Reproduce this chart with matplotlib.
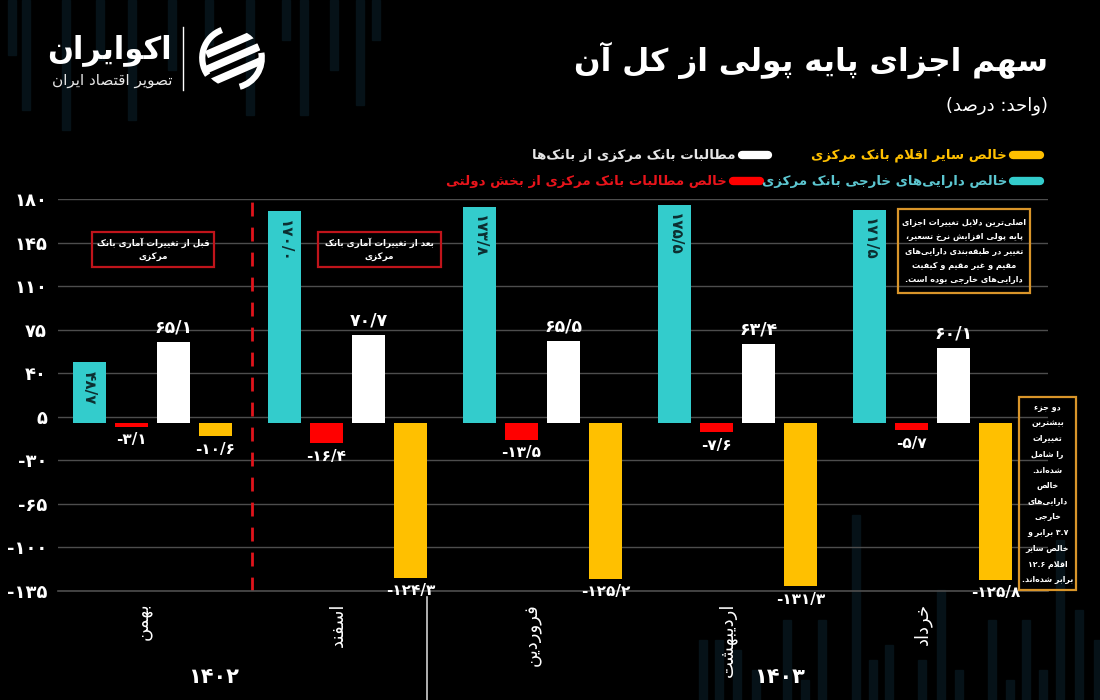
import re
import matplotlib
matplotlib.use('Agg')
import matplotlib.pyplot as plt
from matplotlib.patches import Rectangle, Circle, Arc
from matplotlib.lines import Line2D
from matplotlib.transforms import blended_transform_factory

# ---------------- data ----------------
months = ['بهمن', 'اسفند', 'فروردین', 'اردیبهشت', 'خرداد']
years = ['۱۴۰۲', '۱۴۰۳']
foreign_assets = [48.7, 170.0, 173.8, 175.5, 171.5]
gov_claims = [-3.1, -16.4, -13.5, -7.6, -5.7]
bank_claims = [65.1, 70.7, 65.5, 63.4, 60.1]
other_items = [-10.6, -124.3, -125.2, -131.3, -125.8]
yticks = [-135, -100, -65, -30, 5, 40, 75, 110, 145, 180]
series_names = ['خالص دارایی‌های خارجی بانک مرکزی',
                'خالص مطالبات بانک مرکزی از بخش دولتی',
                'مطالبات بانک مرکزی از بانک‌ها',
                'خالص سایر اقلام بانک مرکزی']
title = 'سهم اجزای پایه پولی از کل آن'
subtitle = '(واحد: درصد)'
note_before = 'قبل از تغییرات آماری بانک\nمرکزی'
note_after = 'بعد از تغییرات آماری بانک\nمرکزی'
note_reasons = ('اصلی‌ترین دلایل تغییرات اجزای\nپایه پولی افزایش نرخ تسعیر،\n'
                'تغییر در طبقه‌بندی دارایی‌های\nمقیم و غیر مقیم و کیفیت\nدارایی‌های خارجی بوده است.')
note_two = ('دو جزء\nبیشترین\nتغییرات\nرا شامل\nشده‌اند.\nخالص\nدارایی‌های\nخارجی\n'
            '۳.۷ برابر و\nخالص سایر\nاقلام ۱۲.۶\nبرابر شده‌اند.')
brand = 'اکوایران'
brand_sub = 'تصویر اقتصاد ایران'

TEAL = '#33cccc'
RED = '#ff0000'
WHITE = '#ffffff'
GOLD = '#ffc000'
TEAL_TXT = '#5cc6d0'
colors = [TEAL, RED, WHITE, GOLD]

# ---------------- Arabic/Persian shaping ----------------
FORMS = {
    '\u0621': ('\uFE80', None, None, None),
    '\u0627': ('\uFE8D', '\uFE8E', None, None),
    '\u0622': ('\uFE81', '\uFE82', None, None),
    '\u0623': ('\uFE83', '\uFE84', None, None),
    '\u062F': ('\uFEA9', '\uFEAA', None, None),
    '\u0630': ('\uFEAB', '\uFEAC', None, None),
    '\u0631': ('\uFEAD', '\uFEAE', None, None),
    '\u0632': ('\uFEAF', '\uFEB0', None, None),
    '\u0698': ('\uFB8A', '\uFB8B', None, None),
    '\u0648': ('\uFEED', '\uFEEE', None, None),
    '\u0628': ('\uFE8F', '\uFE90', '\uFE91', '\uFE92'),
    '\u067E': ('\uFB56', '\uFB57', '\uFB58', '\uFB59'),
    '\u062A': ('\uFE95', '\uFE96', '\uFE97', '\uFE98'),
    '\u062B': ('\uFE99', '\uFE9A', '\uFE9B', '\uFE9C'),
    '\u062C': ('\uFE9D', '\uFE9E', '\uFE9F', '\uFEA0'),
    '\u0686': ('\uFB7A', '\uFB7B', '\uFB7C', '\uFB7D'),
    '\u062D': ('\uFEA1', '\uFEA2', '\uFEA3', '\uFEA4'),
    '\u062E': ('\uFEA5', '\uFEA6', '\uFEA7', '\uFEA8'),
    '\u0633': ('\uFEB1', '\uFEB2', '\uFEB3', '\uFEB4'),
    '\u0634': ('\uFEB5', '\uFEB6', '\uFEB7', '\uFEB8'),
    '\u0635': ('\uFEB9', '\uFEBA', '\uFEBB', '\uFEBC'),
    '\u0636': ('\uFEBD', '\uFEBE', '\uFEBF', '\uFEC0'),
    '\u0637': ('\uFEC1', '\uFEC2', '\uFEC3', '\uFEC4'),
    '\u0638': ('\uFEC5', '\uFEC6', '\uFEC7', '\uFEC8'),
    '\u0639': ('\uFEC9', '\uFECA', '\uFECB', '\uFECC'),
    '\u063A': ('\uFECD', '\uFECE', '\uFECF', '\uFED0'),
    '\u0641': ('\uFED1', '\uFED2', '\uFED3', '\uFED4'),
    '\u0642': ('\uFED5', '\uFED6', '\uFED7', '\uFED8'),
    '\u06A9': ('\uFB8E', '\uFB8F', '\uFB90', '\uFB91'),
    '\u0643': ('\uFED9', '\uFEDA', '\uFEDB', '\uFEDC'),
    '\u06AF': ('\uFB92', '\uFB93', '\uFB94', '\uFB95'),
    '\u0644': ('\uFEDD', '\uFEDE', '\uFEDF', '\uFEE0'),
    '\u0645': ('\uFEE1', '\uFEE2', '\uFEE3', '\uFEE4'),
    '\u0646': ('\uFEE5', '\uFEE6', '\uFEE7', '\uFEE8'),
    '\u0647': ('\uFEE9', '\uFEEA', '\uFEEB', '\uFEEC'),
    '\u06CC': ('\uFBFC', '\uFBFD', '\uFBFE', '\uFBFF'),
    '\u064A': ('\uFEF1', '\uFEF2', '\uFEF3', '\uFEF4'),
    '\u0626': ('\uFE89', '\uFE8A', '\uFE8B', '\uFE8C'),
}
LAM_ALEF = {'\u0627': ('\uFEFB', '\uFEFC'), '\u0622': ('\uFEF5', '\uFEF6'),
            '\u0623': ('\uFEF7', '\uFEF8')}
MIRROR = {'(': ')', ')': '(', '[': ']', ']': '['}


def _shape(line):
    ch = list(line)
    n = len(ch)
    out = []
    i = 0
    while i < n:
        c = ch[i]
        if c not in FORMS:
            if c != '\u200c':
                out.append(c)
            i += 1
            continue
        prev = ch[i - 1] if i > 0 else None
        cp = prev in FORMS and FORMS[prev][2] is not None
        if c == '\u0644' and i + 1 < n and ch[i + 1] in LAM_ALEF:
            iso, fin = LAM_ALEF[ch[i + 1]]
            out.append(fin if cp else iso)
            i += 2
            continue
        nxt = ch[i + 1] if i + 1 < n else None
        f = FORMS[c]
        cn = f[2] is not None and nxt in FORMS
        if cp and cn:
            g = f[3]
        elif cp:
            g = f[1]
        elif cn:
            g = f[2]
        else:
            g = f[0]
        out.append(g)
        i += 1
    return ''.join(out)


def rtl(text):
    lines = []
    for line in text.split('\n'):
        s = _shape(line)
        rev = ''.join(MIRROR.get(c, c) for c in reversed(s))
        rev = re.sub(r'[0-9\u06F0-\u06F9]+(?:[./][0-9\u06F0-\u06F9]+)*',
                     lambda m: m.group(0)[::-1], rev)
        lines.append(rev)
    return '\n'.join(lines)


FA = str.maketrans('0123456789', '۰۱۲۳۴۵۶۷۸۹')


def fa_num(v, dec=True):
    s = f'{v:.1f}' if dec else f'{v:.0f}'
    return s.replace('.', '/').translate(FA)


plt.rcParams['font.family'] = ['DejaVu Sans']

W, H = 1100, 700
fig = plt.figure(figsize=(11, 7), dpi=100, facecolor='black')


def fx(px):
    return px / W


def fy(py):
    return 1 - py / H


# faint background stripes (decoration)
STRIPE = '#061218'
stripe_top = [(8, 55), (22, 110), (62, 130), (96, 60), (128, 120), (168, 70), (205, 45),
              (246, 115), (282, 40), (300, 115), (330, 70), (356, 105), (372, 40)]
for x0, h in stripe_top:
    fig.patches.append(Rectangle((fx(x0), fy(h)), 8 / W, h / H, transform=fig.transFigure,
                                 color=STRIPE, zorder=-5))
stripe_bot = [(699, 60), (715, 60), (733, 50), (752, 30), (783, 80), (801, 20), (818, 80),
              (852, 185), (869, 40), (885, 55), (918, 40), (937, 110), (955, 30),
              (988, 80), (1006, 20), (1022, 80), (1039, 30), (1056, 160), (1075, 90),
              (1094, 60)]
for x0, h in stripe_bot:
    fig.patches.append(Rectangle((fx(x0), 0), 8 / W, h / H, transform=fig.transFigure,
                                 color=STRIPE, zorder=-5))

# ---------------- main axes ----------------
ax_l, ax_r, ax_t, ax_b = 58, 1048, 199, 591
ax = fig.add_axes([fx(ax_l), fy(ax_b), (ax_r - ax_l) / W, (ax_b - ax_t) / H])
ax.set_facecolor('none')
ax.set_zorder(2)
group_px0, group_step = 152.5, 195.0
ax.set_xlim((ax_l - group_px0) / group_step, (ax_r - group_px0) / group_step)
ax.set_ylim(yticks[0], yticks[-1])

d = 42 / group_step
bw = 33 / group_step
series = [foreign_assets, gov_claims, bank_claims, other_items]
xs = list(range(len(months)))
for k, (vals, col) in enumerate(zip(series, colors)):
    pos = [x + (k - 1.5) * d for x in xs]
    ax.bar(pos, vals, width=bw, color=col, zorder=3)
    for p, v in zip(pos, vals):
        if k == 0:
            ax.annotate(fa_num(v), (p, v), xytext=(0, -6), textcoords='offset points',
                        ha='center', va='top', rotation=-90, color='#0c2e30',
                        fontsize=11, fontweight='bold', zorder=4)
        elif k == 2:
            ax.annotate(fa_num(v), (p, v), xytext=(0, 4), textcoords='offset points',
                        ha='center', va='bottom', color='white', fontsize=12.5,
                        fontweight='bold', zorder=4)
        else:
            ax.annotate(fa_num(v), (p, v), xytext=(0, -4), textcoords='offset points',
                        ha='center', va='top', color='white', fontsize=11,
                        fontweight='bold', zorder=4)

ax.set_yticks(yticks)
ax.set_yticklabels([fa_num(t, dec=False) for t in yticks], color='white',
                   fontsize=13, fontweight='bold')
ax.tick_params(axis='y', length=0, pad=8)
ax.set_xticks([])
ax.grid(axis='y', color='#4d4d4d', linewidth=1, zorder=0)
for s in ['top', 'right', 'left']:
    ax.spines[s].set_visible(False)
ax.spines['bottom'].set_color('#4d4d4d')
ax.spines['bottom'].set_linewidth(1.2)
ax.spines['bottom'].set_position(('data', yticks[0]))

# dashed red separator between months
ax.axvline((252 - group_px0) / group_step, color='#e0141b', lw=2, ls=(0, (5, 4)), zorder=2)

# month labels
trans = blended_transform_factory(ax.transData, ax.transAxes)
for i, m in enumerate(months):
    ax.text(i - 0.05, -0.03, rtl(m), transform=trans, rotation=90, ha='center', va='top',
            color='white', fontsize=13)

# year separator and labels
sep_x = (427 - group_px0) / group_step
ax.add_line(Line2D([sep_x, sep_x], [-0.015, -0.28], transform=trans, color='#cfcfcf',
                   lw=1.2, clip_on=False))
year_x = [(214 - group_px0) / group_step, (780 - group_px0) / group_step]
for yx, yl in zip(year_x, years):
    ax.text(yx, -0.22, yl, transform=trans, ha='center', va='center', color='white',
            fontsize=15, fontweight='bold')

# ---------------- titles ----------------
fig.text(fx(1048), fy(60), rtl(title), ha='right', va='center', color='white',
         fontsize=22.5, fontweight='bold')
fig.text(fx(1048), fy(106), rtl(subtitle), ha='right', va='center', color='white',
         fontsize=13)

# ---------------- legend ----------------
leg = [(3, 1040, 1013, 155, GOLD), (2, 768, 742, 155, '#e6e6e6'),
       (0, 1040, 1013, 181, TEAL_TXT), (1, 760, 733, 181, '#e8141b')]
for idx, xr, xl, yy, tc in leg:
    fig.add_artist(Line2D([fx(xl), fx(xr)], [fy(yy), fy(yy)], transform=fig.transFigure,
                          color=colors[idx], lw=6, solid_capstyle='round'))
    fig.text(fx(xl - 6), fy(yy), rtl(series_names[idx]), ha='right', va='center',
             color=tc, fontsize=9.6, fontweight='bold')

# ---------------- annotation boxes ----------------
def note_box(x0, y0, x1, y1, text, edge, fs, ls=1.25):
    fig.patches.append(Rectangle((fx(x0), fy(y1)), (x1 - x0) / W, (y1 - y0) / H,
                                 transform=fig.transFigure, fill=False, edgecolor=edge,
                                 lw=1.6, zorder=5))
    fig.text(fx((x0 + x1) / 2), fy((y0 + y1) / 2), rtl(text), ha='center', va='center',
             multialignment='center', color='white', fontsize=fs, fontweight='bold',
             linespacing=ls, zorder=6)


note_box(92, 232, 214, 267, note_before, '#c0141b', 6.3, 1.7)
note_box(318, 232, 441, 267, note_after, '#c0141b', 6.3, 1.7)
note_box(898, 209, 1030, 293, note_reasons, '#d9952a', 5.9, 1.75)
note_box(1019, 397, 1076, 590, note_two, '#d9952a', 5.7, 1.95)

# ---------------- logo ----------------
fig.text(fx(172), fy(50), rtl(brand), ha='right', va='center', color='white',
         fontsize=22, fontweight='bold')
fig.text(fx(172), fy(80), rtl(brand_sub), ha='right', va='center', color='#e8e8e8',
         fontsize=11)
fig.add_artist(Line2D([fx(183), fx(183)], [fy(27), fy(90)], transform=fig.transFigure,
                      color='white', lw=1))
lax = fig.add_axes([fx(198), fy(92), 68 / W, 68 / H])
lax.set_xlim(-1, 1)
lax.set_ylim(-1, 1)
lax.set_aspect('equal')
lax.axis('off')
lax.add_patch(Arc((0, 0), 1.75, 1.75, theta1=110, theta2=215, color='white', lw=4.5))
lax.add_patch(Arc((0, 0), 1.75, 1.75, theta1=-75, theta2=10, color='white', lw=4.5))
clip = Circle((0, 0), 0.86, transform=lax.transData)
for off in [0.42, -0.02, -0.46]:
    ln = Line2D([-0.75, 0.95], [off - 0.32, off + 0.42], color='white', lw=5.5,
                solid_capstyle='butt')
    lax.add_line(ln)
    ln.set_clip_path(clip)

fig.savefig('out.png', dpi=100, facecolor='black')
